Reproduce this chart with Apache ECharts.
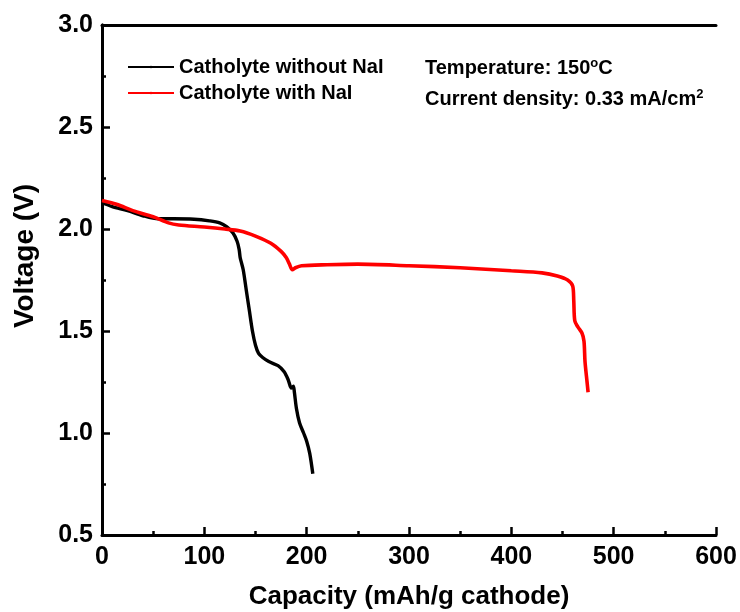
<!DOCTYPE html>
<html>
<head>
<meta charset="utf-8">
<script src="https://cdn.jsdelivr.net/npm/echarts@6/dist/echarts.min.js"></script>
<style>html,body{margin:0;padding:0;background:#fff}#c{width:740px;height:612px}</style>
</head>
<body>
<div id="c"></div>
<script>
var seriesNames = ['Catholyte without NaI', 'Catholyte with NaI'];
var withoutNaI = [[0,2.13],[10,2.11],[25,2.09],[40,2.065],[55,2.05],[70,2.05],[90,2.048],[105,2.04],[115,2.03],[122,2.01],[128,1.98],[132,1.94],[134,1.90],[135,1.86],[136,1.84],[138,1.80],[141,1.70],[144,1.60],[147,1.50],[150,1.43],[153,1.39],[157,1.37],[163,1.35],[172,1.33],[178,1.30],[182,1.26],[185,1.22],[187,1.23],[188,1.20],[190,1.12],[193,1.05],[197,1.00],[200,0.96],[203,0.90],[206,0.80]];
var withNaI = [[0,2.14],[15,2.12],[30,2.09],[50,2.06],[65,2.03],[75,2.02],[100,2.01],[120,2.0],[135,1.99],[150,1.965],[165,1.93],[175,1.89],[180,1.86],[183,1.83],[186,1.80],[189,1.81],[195,1.82],[220,1.825],[250,1.828],[300,1.82],[350,1.81],[400,1.795],[430,1.785],[445,1.77],[455,1.75],[460,1.72],[461,1.65],[462,1.55],[465,1.52],[469,1.49],[471,1.45],[472,1.35],[474,1.25],[475,1.20]];
var xTicks = [0,100,200,300,400,500,600];
var yTicks = ['0.5','1.0','1.5','2.0','2.5','3.0'];

var FONT = '"Liberation Sans", Arial, sans-serif';
var chart = echarts.init(document.getElementById('c'));
var axisLine = {show:true, lineStyle:{color:'#000', width:3}};
var supStyle = {fontFamily:FONT, fontWeight:'bold', fontSize:13, verticalAlign:'top', padding:[0,0,10,0], fill:'#000'};
chart.setOption({
  animation:false,
  grid:{left:102, right:24, top:25, bottom:77, containLabel:false, outerBoundsMode:'none'},
  legend:{
    orient:'vertical', left:122, top:52, itemWidth:46, itemHeight:3, itemGap:6,
    data:seriesNames,
    textStyle:{fontFamily:FONT, fontWeight:'bold', fontSize:20, color:'#000'}
  },
  xAxis:[{
    type:'value', min:xTicks[0], max:xTicks[xTicks.length-1], interval:100,
    name:'Capacity (mAh/g cathode)', nameLocation:'middle', nameGap:49,
    nameTextStyle:{fontFamily:FONT, fontWeight:'bold', fontSize:26, color:'#000'},
    axisLine:axisLine,
    axisTick:{show:true, inside:true, length:8, lineStyle:{width:2.5,color:'#000'}},
    minorTick:{show:true, splitNumber:2, length:4, lineStyle:{width:2.5,color:'#000'}},
    axisLabel:{fontFamily:FONT, fontWeight:'bold', fontSize:25, color:'#000', margin:10},
    splitLine:{show:false}
  },{
    type:'value', position:'top', min:0, max:600,
    axisLine:axisLine, axisTick:{show:false}, axisLabel:{show:false}, splitLine:{show:false}
  }],
  yAxis:[{
    type:'value', min:0.5, max:3.0, interval:0.5,
    axisLine:axisLine,
    axisTick:{show:true, inside:true, length:8, lineStyle:{width:2.5,color:'#000'}},
    minorTick:{show:true, splitNumber:2, length:4, lineStyle:{width:2.5,color:'#000'}},
    axisLabel:{fontFamily:FONT, fontWeight:'bold', fontSize:25, color:'#000', margin:9,
      formatter:function(v){ var i = Math.round((v-0.5)/0.5); return yTicks[i]; }},
    splitLine:{show:false}
  },{
    type:'value', position:'right', min:0.5, max:3.0,
    axisLine:axisLine, axisTick:{show:false}, axisLabel:{show:false}, splitLine:{show:false}
  }],
  series:[
    {name:seriesNames[0], type:'line', data:withoutNaI, showSymbol:false, symbol:'none', smooth:0.3,
     lineStyle:{color:'#000', width:3.4}, itemStyle:{color:'#000'}, z:3},
    {name:seriesNames[1], type:'line', data:withNaI, showSymbol:false, symbol:'none', smooth:0.3,
     lineStyle:{color:'#ff0000', width:3.6}, itemStyle:{color:'#ff0000'}, z:4}
  ],
  graphic:[
    {type:'text', x:25, y:256, rotation:Math.PI/2, style:{
      text:'Voltage (V)', font:'bold 28px ' + FONT, fill:'#000', align:'center', verticalAlign:'middle'
    }},
    {type:'text', left:425, top:57, style:{
      text:'Temperature: 150{sup|o}C', font:'bold 20px ' + FONT, fill:'#000', rich:{sup:supStyle}
    }},
    {type:'text', left:425, top:88, style:{
      text:'Current density: 0.33 mA/cm{sup|2}', font:'bold 20px ' + FONT, fill:'#000', rich:{sup:supStyle}
    }}
  ]
});
</script>
</body>
</html>
